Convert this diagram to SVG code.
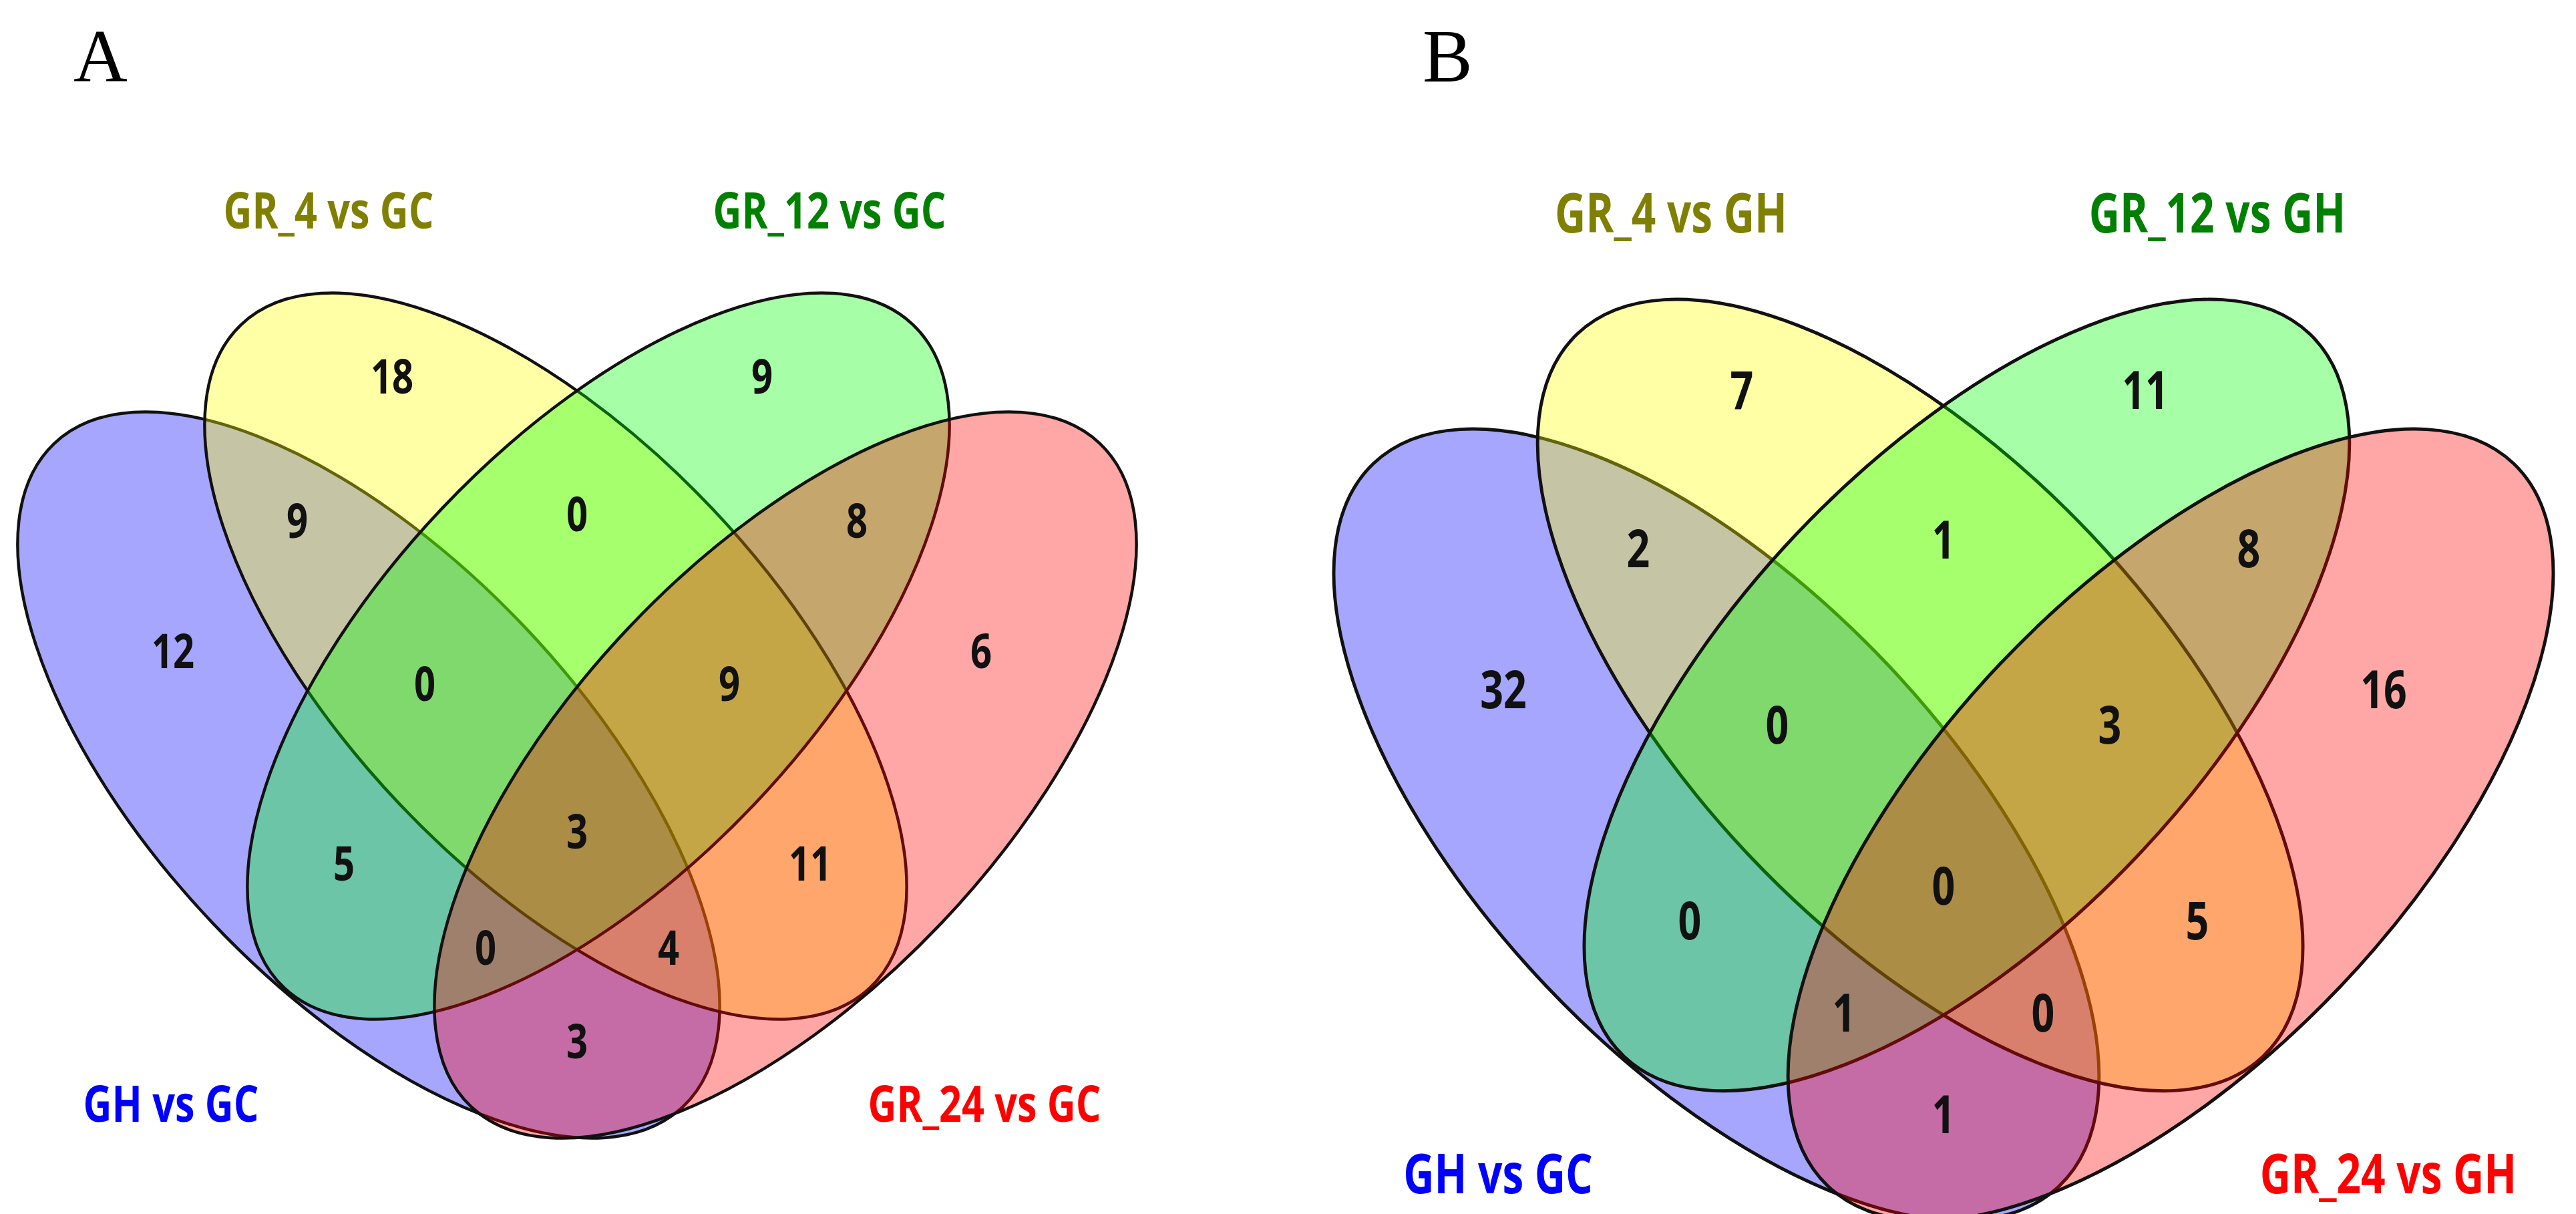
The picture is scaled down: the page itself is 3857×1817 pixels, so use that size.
<svg xmlns="http://www.w3.org/2000/svg" width="3857" height="1817" viewBox="0 0 3857 1817">
<style>
.e{stroke:#111;stroke-width:4.5;fill-opacity:0.35}
.b{fill:#0000ff}.y{fill:#ffff00}.g{fill:#00ff00}.r{fill:#ff0000}
.n{font-family:"Open Sans","DejaVu Sans",sans-serif;font-weight:700;fill:#111;text-anchor:middle}
.na{font-size:72px}.nb{font-size:78px}
.l{font-family:"Open Sans","DejaVu Sans",sans-serif;font-weight:700;text-anchor:middle}
.la{font-size:76px}.lb{font-size:82px}
.cb{fill:#0000ff}.cy{fill:#808000}.cg{fill:#008000}.cr{fill:#ff0000}
.p{font-family:"Liberation Serif","Times New Roman",serif;font-size:112px;fill:#000}
</style>
<rect width="3857" height="1817" fill="#fff"/>
<defs>
<g id="venn">
<ellipse class="e b" cx="552" cy="1160" rx="684" ry="322" transform="rotate(46.5 552 1160)"/>
<ellipse class="e y" cx="832" cy="982" rx="684" ry="322" transform="rotate(46.5 832 982)"/>
<ellipse class="e g" cx="896" cy="982" rx="684" ry="322" transform="rotate(-46.5 896 982)"/>
<ellipse class="e r" cx="1176" cy="1160" rx="684" ry="322" transform="rotate(-46.5 1176 1160)"/>
</g>
</defs>
<text class="p" x="110" y="122">A</text>
<text class="p" x="2130" y="122">B</text>
<g id="venn-A">
<use href="#venn"/>
</g>
<g id="venn-B">
<use href="#venn" transform="translate(2910 -30) scale(1.09) translate(-864 0)"/>
</g>
<g id="labels-A">
<text class="l la cy" transform="translate(492 342) scale(0.78 1)">GR_4 vs GC</text>
<text class="l la cg" transform="translate(1242 342) scale(0.78 1)">GR_12 vs GC</text>
<text class="l la cb" transform="translate(256 1679) scale(0.78 1)">GH vs GC</text>
<text class="l la cr" transform="translate(1474 1679) scale(0.78 1)">GR_24 vs GC</text>
</g>
<g id="labels-B">
<text class="l lb cy" transform="translate(2502 348) scale(0.78 1)">GR_4 vs GH</text>
<text class="l lb cg" transform="translate(3320 348) scale(0.78 1)">GR_12 vs GH</text>
<text class="l lb cb" transform="translate(2243 1786) scale(0.78 1)">GH vs GC</text>
<text class="l lb cr" transform="translate(3576 1786) scale(0.78 1)">GR_24 vs GH</text>
</g>
<g id="numbers-A">
<text class="n na" transform="translate(587 589) scale(0.78 1)">18</text>
<text class="n na" transform="translate(1141 589) scale(0.78 1)">9</text>
<text class="n na" transform="translate(445 805) scale(0.78 1)">9</text>
<text class="n na" transform="translate(864 795) scale(0.78 1)">0</text>
<text class="n na" transform="translate(1283 805) scale(0.78 1)">8</text>
<text class="n na" transform="translate(259 1000) scale(0.78 1)">12</text>
<text class="n na" transform="translate(1469 1000) scale(0.78 1)">6</text>
<text class="n na" transform="translate(636 1049) scale(0.78 1)">0</text>
<text class="n na" transform="translate(1092 1049) scale(0.78 1)">9</text>
<text class="n na" transform="translate(864 1270) scale(0.78 1)">3</text>
<text class="n na" transform="translate(515 1318) scale(0.78 1)">5</text>
<text class="n na" transform="translate(1213 1318) scale(0.78 1)">11</text>
<text class="n na" transform="translate(727 1444) scale(0.78 1)">0</text>
<text class="n na" transform="translate(1001 1444) scale(0.78 1)">4</text>
<text class="n na" transform="translate(864 1584) scale(0.78 1)">3</text>
</g>
<g id="numbers-B">
<text class="n nb" transform="translate(2608 612) scale(0.78 1)">7</text>
<text class="n nb" transform="translate(3212 612) scale(0.78 1)">11</text>
<text class="n nb" transform="translate(2453 849) scale(0.78 1)">2</text>
<text class="n nb" transform="translate(2910 836) scale(0.78 1)">1</text>
<text class="n nb" transform="translate(3367 849) scale(0.78 1)">8</text>
<text class="n nb" transform="translate(2251 1060) scale(0.78 1)">32</text>
<text class="n nb" transform="translate(3569 1060) scale(0.78 1)">16</text>
<text class="n nb" transform="translate(2661 1113) scale(0.78 1)">0</text>
<text class="n nb" transform="translate(3159 1113) scale(0.78 1)">3</text>
<text class="n nb" transform="translate(2910 1354) scale(0.78 1)">0</text>
<text class="n nb" transform="translate(2530 1406) scale(0.78 1)">0</text>
<text class="n nb" transform="translate(3290 1406) scale(0.78 1)">5</text>
<text class="n nb" transform="translate(2761 1544) scale(0.78 1)">1</text>
<text class="n nb" transform="translate(3059 1544) scale(0.78 1)">0</text>
<text class="n nb" transform="translate(2910 1696) scale(0.78 1)">1</text>
</g>
</svg>
